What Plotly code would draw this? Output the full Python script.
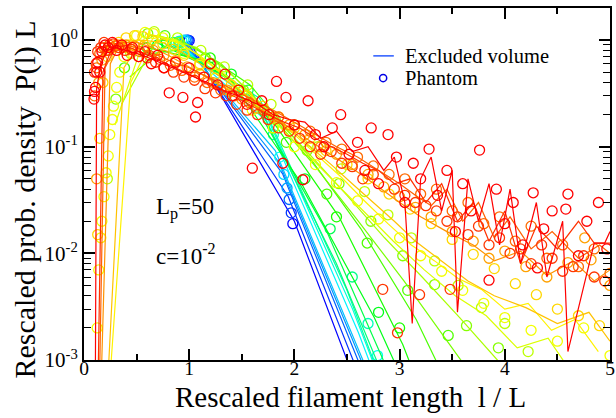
import colorsys
import plotly.graph_objects as go

# ---------------------------------------------------------------------------
# Excluded-volume runs (drawn as lines), early (short filaments) -> late
# x = rescaled filament length l/L, y = rescaled probability density P(l) L
# ---------------------------------------------------------------------------
ev_x_00 = [1.000, 2.000, 3.000]
ev_y_00 = [0.98, 0.020, 5.0e-5]
ev_x_01 = [0.971, 1.942, 2.913]
ev_y_01 = [0.99, 0.034, 1.3e-4]
ev_x_02 = [0.943, 1.887, 2.830]
ev_y_02 = [1.0, 0.056, 2.8e-4]
ev_x_03 = [0.926, 1.852, 2.778]
ev_y_03 = [1.0, 0.072, 4.5e-4]
ev_x_04 = [0.909, 1.818, 2.727, 3.636]
ev_y_04 = [1.0, 0.092, 6.6e-4, 2.0e-6]
ev_x_05 = [0.870, 1.739, 2.609, 3.478]
ev_y_05 = [0.98, 0.173, 1.8e-3, 1.0e-5]
ev_x_06 = [0.851, 1.702, 2.553, 3.404]
ev_y_06 = [0.95, 0.23, 3.0e-3, 2.0e-5]
ev_x_07 = [0.833, 1.667, 2.500, 3.333]
ev_y_07 = [0.92, 0.286, 4.5e-3, 3.0e-5]
ev_x_08 = [0.800, 1.600, 2.400, 3.200]
ev_y_08 = [0.92, 0.32, 8.0e-3, 1.0e-4]
ev_x_09 = [0.769, 1.538, 2.308, 3.077]
ev_y_09 = [0.93, 0.35, 0.016, 3.0e-4]
ev_x_10 = [0.690, 1.379, 2.069, 2.759, 3.448]
ev_y_10 = [0.95, 0.45, 0.045, 2.5e-3, 8.0e-5]
ev_x_11 = [0.606, 1.212, 1.818, 2.424, 3.030, 3.636]
ev_y_11 = [0.85, 0.62, 0.16, 0.022, 1.4e-3, 4.0e-5]
ev_x_12 = [0.526, 1.053, 1.579, 2.105, 2.632, 3.158, 3.684]
ev_y_12 = [0.72, 0.85, 0.38, 0.090, 0.017, 2.4e-3, 2.0e-4]
ev_x_13 = [0.435, 0.870, 1.304, 1.739, 2.174, 2.609, 3.043, 3.478, 3.913]
ev_y_13 = [0.45, 1.05, 0.60, 0.22, 0.070, 0.020, 5.5e-3, 1.4e-3, 3.5e-4]
ev_x_14 = [0.357, 0.714, 1.071, 1.429, 1.786, 2.143, 2.500, 2.857, 3.214,
           3.571, 3.929, 4.286]
ev_y_14 = [0.25, 1.10, 0.85, 0.45, 0.20, 0.085, 0.035, 0.014, 6.0e-3,
           2.5e-3, 1.0e-3, 4.0e-4]
ev_x_15 = [0.294, 0.588, 0.882, 1.176, 1.471, 1.765, 2.059, 2.353, 2.647,
           2.941, 3.235, 3.529, 3.824, 4.118, 4.412, 4.706]
ev_y_15 = [0.16, 1.15, 1.0, 0.62, 0.35, 0.19, 0.098, 0.050, 0.026,
           0.013, 7.0e-3, 4.0e-3, 2.6e-3, 1.3e-3, 1.6e-3, 6.0e-4]
ev_x_16 = [0.222, 0.444, 0.667, 0.889, 1.111, 1.333, 1.556, 1.778, 2.000,
           2.222, 2.444, 2.667, 2.889, 3.111, 3.333, 3.556, 3.778, 4.000,
           4.222, 4.444, 4.667, 4.889]
ev_y_16 = [3.0e-4, 0.40, 1.10, 0.95, 0.70, 0.48, 0.32, 0.20, 0.13,
           0.082, 0.052, 0.031, 0.019, 0.012, 8.5e-3, 5.8e-3, 4.6e-3, 3.0e-3,
           3.4e-3, 1.9e-3, 2.4e-3, 1.2e-3]
ev_x_17 = [0.20, 0.38, 0.55, 0.75, 0.95, 1.15, 1.35, 1.55, 1.75, 1.95,
           2.15, 2.35, 2.55, 2.75, 2.95, 3.15, 3.40, 3.65, 3.90, 4.20,
           4.50, 4.80, 5.00]
ev_y_17 = [2.0e-4, 0.55, 1.0, 0.95, 0.75, 0.56, 0.42, 0.30, 0.21, 0.15,
           0.10, 0.068, 0.045, 0.030, 0.020, 0.013, 8.5e-3, 5.5e-3, 4.0e-3,
           3.1e-3, 2.2e-3, 2.8e-3, 1.5e-3]
ev_x_18 = [0.14, 0.25, 0.35, 0.50, 0.65, 0.80, 1.00, 1.20, 1.40, 1.60,
           1.80, 2.00, 2.20, 2.40, 2.60, 2.80, 3.00, 3.20, 3.45, 3.70,
           3.90, 4.15, 4.40, 4.65, 4.85, 5.00]
ev_y_18 = [1.0e-4, 0.60, 0.95, 0.95, 0.85, 0.72, 0.56, 0.43, 0.33, 0.25,
           0.19, 0.14, 0.105, 0.078, 0.058, 0.042, 0.030, 0.022, 0.016, 0.012,
           8.5e-3, 0.0105, 6.2e-3, 8.5e-3, 5.5e-3, 7.0e-3]
ev_x_19 = [0.115, 0.20, 0.30, 0.40, 0.55, 0.70, 0.85, 1.00, 1.20, 1.40,
           1.60, 1.80, 2.00, 2.20, 2.40, 2.60, 2.80, 3.00, 3.15, 3.30,
           3.45, 3.60, 3.75, 3.90, 4.05, 4.25, 4.45, 4.70, 4.90, 5.00]
ev_y_19 = [1.0e-5, 0.55, 0.85, 0.90, 0.82, 0.72, 0.62, 0.55, 0.44, 0.35,
           0.28, 0.22, 0.17, 0.13, 0.10, 0.080, 0.060, 0.045, 0.035, 0.028,
           0.040, 0.020, 0.030, 0.014, 0.022, 0.011, 0.016, 9.0e-3, 0.012, 0.010]
ev_x_20 = [0.105, 0.18, 0.26, 0.35, 0.45, 0.57, 0.70, 0.85, 1.00, 1.15,
           1.30, 1.45, 1.60, 1.75, 1.90, 2.05, 2.20, 2.35, 2.50, 2.65,
           2.80, 2.95, 3.10, 3.25, 3.40, 3.55, 3.70, 3.85, 4.00, 4.15,
           4.30, 4.50, 4.70, 4.85, 5.00]
ev_y_20 = [1.0e-5, 0.50, 0.82, 0.88, 0.84, 0.75, 0.66, 0.56, 0.48, 0.40,
           0.34, 0.29, 0.24, 0.20, 0.17, 0.15, 0.12, 0.10, 0.085, 0.070,
           0.060, 0.045, 0.050, 0.030, 0.045, 0.020, 0.030, 0.013, 0.025, 8.0e-3,
           0.018, 0.011, 0.020, 0.0125, 0.0125]
ev_x_21 = [0.10, 0.12, 0.16, 0.22, 0.30, 0.40, 0.50, 0.62, 0.75, 0.90,
           1.05, 1.20, 1.35, 1.50, 1.65, 1.80, 1.95, 2.10, 2.25, 2.40,
           2.55, 2.70, 2.85, 2.95, 3.05, 3.12, 3.20, 3.30, 3.40, 3.50,
           3.55, 3.65, 3.75, 3.85, 3.95, 4.05, 4.15, 4.30, 4.40, 4.55,
           4.60, 4.85, 4.95, 5.00]
ev_y_21 = [1.0e-5, 0.35, 0.60, 0.80, 0.85, 0.80, 0.75, 0.68, 0.60, 0.52,
           0.45, 0.39, 0.33, 0.29, 0.25, 0.20, 0.18, 0.17, 0.12, 0.14,
           0.090, 0.10, 0.060, 0.080, 0.030, 2.2e-3, 0.050, 0.080, 0.025, 0.060,
           2.8e-3, 0.050, 0.020, 0.045, 0.012, 0.040, 8.0e-3, 0.030, 6.0e-3, 0.020,
           1.2e-3, 0.0125, 0.0125, 0.016]

# ---------------------------------------------------------------------------
# Phantom runs (drawn as open circles), early -> late
# ---------------------------------------------------------------------------
ph_x_00 = [1.000, 1.985]
ph_y_00 = [0.99, 0.019]
ph_x_01 = [0.990, 1.970, 2.960]
ph_y_01 = [1.0, 0.024, 6.0e-5]
ph_x_02 = [0.980, 1.950, 2.930]
ph_y_02 = [1.0, 0.032, 1.2e-4]
ph_x_03 = [0.965, 1.930, 2.900]
ph_y_03 = [1.0, 0.041, 2.0e-4]
ph_x_04 = [0.950, 1.900, 2.850]
ph_y_04 = [1.0, 0.055, 4.0e-4]
ph_x_05 = [0.930, 1.860, 2.790, 3.720]
ph_y_05 = [0.99, 0.080, 1.1e-3, 5.0e-6]
ph_x_06 = [0.900, 1.800, 2.700, 3.600]
ph_y_06 = [0.97, 0.13, 2.2e-3, 2.0e-5]
ph_x_07 = [0.850, 1.700, 2.550, 3.400]
ph_y_07 = [0.95, 0.22, 6.0e-3, 1.0e-4]
ph_x_08 = [0.780, 1.560, 2.340, 3.120, 3.900]
ph_y_08 = [0.94, 0.34, 0.017, 4.5e-4, 8.0e-6]
ph_x_09 = [0.700, 1.400, 2.100, 2.800, 3.500]
ph_y_09 = [0.90, 0.48, 0.050, 2.8e-3, 8.0e-5]
ph_x_10 = [0.600, 1.200, 1.800, 2.400, 3.000, 3.600]
ph_y_10 = [0.85, 0.68, 0.15, 0.022, 2.0e-3, 1.6e-4]
ph_x_11 = [0.385, 0.769, 1.154, 1.538, 1.923, 2.308, 2.692, 3.077, 3.462]
ph_y_11 = [0.55, 1.10, 0.68, 0.30, 0.11, 0.036, 0.0125, 4.5e-3, 1.7e-3]
ph_x_12 = [0.303, 0.606, 0.909, 1.212, 1.515, 1.818, 2.121, 2.424, 2.727,
           3.030, 3.333, 3.636, 3.939]
ph_y_12 = [0.28, 1.15, 0.95, 0.60, 0.34, 0.18, 0.092, 0.045, 0.020,
           9.5e-3, 5.1e-3, 2.1e-3, 1.3e-3]
ph_x_13 = [0.222, 0.444, 0.667, 0.889, 1.111, 1.333, 1.556, 1.778, 2.000,
           2.222, 2.444, 2.667, 2.889, 3.111, 3.333, 3.556, 3.778, 4.000,
           4.222]
ph_y_13 = [0.050, 0.75, 1.20, 1.05, 0.80, 0.56, 0.38, 0.25, 0.16,
           0.10, 0.062, 0.038, 0.023, 0.014, 8.5e-3, 5.0e-3, 3.1e-3, 2.2e-3,
           1.2e-3]
ph_x_14 = [0.125, 0.14, 0.16, 0.17, 0.19, 0.21, 0.23, 0.245, 0.27, 0.28,
           0.31, 0.34, 0.38, 0.43, 0.50, 0.58, 0.66, 0.75, 0.85, 0.95,
           1.10, 1.25, 1.40, 1.60, 1.80, 2.00, 2.20, 2.40, 2.60, 2.80,
           3.00, 3.20, 3.40, 3.60, 3.80, 4.00, 4.25, 4.50, 4.75, 5.00]
ph_y_14 = [2.0e-3, 7.0e-3, 0.014, 0.020, 0.034, 0.057, 0.082, 0.13, 0.18, 0.24,
           0.36, 0.50, 0.70, 0.90, 1.10, 1.18, 1.15, 1.05, 0.90, 0.75,
           0.58, 0.44, 0.33, 0.22, 0.15, 0.10, 0.068, 0.046, 0.031, 0.021,
           0.014, 9.5e-3, 6.8e-3, 4.5e-3, 3.4e-3, 2.5e-3, 1.9e-3, 1.5e-3, 2.0e-3, 1.1e-3]
ph_x_15 = [0.13, 0.15, 0.18, 0.22, 0.27, 0.33, 0.40, 0.48, 0.56, 0.65,
           0.75, 0.85, 0.95, 1.10, 1.25, 1.40, 1.55, 1.70, 1.85, 2.00,
           2.15, 2.30, 2.50, 2.70, 2.90, 3.10, 3.30, 3.50, 3.70, 3.90,
           4.10, 4.30, 4.50, 4.70, 4.90]
ph_y_15 = [0.015, 0.12, 0.40, 0.70, 0.85, 0.95, 1.05, 1.10, 1.08, 1.0,
           0.92, 0.82, 0.72, 0.60, 0.48, 0.38, 0.30, 0.24, 0.19, 0.15,
           0.12, 0.092, 0.068, 0.050, 0.036, 0.026, 0.019, 0.0135, 9.8e-3, 7.2e-3,
           5.2e-3, 4.1e-3, 3.0e-3, 2.6e-3, 2.1e-3]
ph_x_16 = [0.12, 0.14, 0.17, 0.21, 0.26, 0.32, 0.40, 0.48, 0.57, 0.66,
           0.76, 0.87, 0.98, 1.10, 1.23, 1.36, 1.50, 1.65, 1.80, 1.95,
           2.10, 2.25, 2.40, 2.55, 2.70, 2.85, 3.00, 3.15, 3.30, 3.50,
           3.70, 3.85, 4.00, 4.20, 4.40, 4.60, 4.76, 4.82, 5.00]
ph_y_16 = [0.050, 0.40, 0.65, 0.80, 0.85, 0.90, 0.90, 0.88, 0.85, 0.80,
           0.72, 0.64, 0.56, 0.48, 0.40, 0.34, 0.28, 0.23, 0.19, 0.16,
           0.13, 0.10, 0.085, 0.068, 0.055, 0.042, 0.034, 0.027, 0.022, 0.016,
           0.013, 9.0e-3, 0.0105, 7.5e-3, 6.0e-3, 8.2e-3, 0.014, 8.7e-3, 5.0e-3]
ph_x_17 = [0.10, 0.12, 0.15, 0.19, 0.24, 0.30, 0.37, 0.45, 0.53, 0.62,
           0.72, 0.82, 0.93, 1.05, 1.17, 1.30, 1.43, 1.57, 1.71, 1.85,
           2.00, 2.15, 2.30, 2.45, 2.60, 2.75, 2.90, 3.05, 3.20, 3.35,
           3.50, 3.65, 3.80, 3.95, 4.10, 4.25, 4.40, 4.55, 4.70, 4.85, 5.00]
ph_y_17 = [0.30, 0.55, 0.75, 0.85, 0.90, 0.88, 0.85, 0.82, 0.78, 0.72,
           0.66, 0.58, 0.52, 0.45, 0.40, 0.34, 0.30, 0.26, 0.22, 0.19,
           0.16, 0.14, 0.11, 0.095, 0.080, 0.066, 0.055, 0.050, 0.036, 0.040,
           0.025, 0.030, 0.019, 0.022, 0.013, 0.018, 9.0e-3, 0.012, 7.5e-3, 0.011, 6.5e-3]
ph_x_18 = [0.10, 0.115, 0.13, 0.16, 0.19, 0.23, 0.28, 0.33, 0.39, 0.45,
           0.52, 0.60, 0.68, 0.76, 0.85, 0.95, 1.05, 1.15, 1.25, 1.35,
           1.45, 1.55, 1.65, 1.75, 1.85, 1.95, 2.05, 2.15, 2.25, 2.35,
           2.45, 2.55, 2.65, 2.75, 2.84, 2.95, 2.98, 3.05, 3.15, 3.19,
           3.25, 3.35, 3.45, 3.48, 3.55, 3.65, 3.75, 3.85, 3.95, 4.05,
           4.15, 4.25, 4.35, 4.45, 4.55, 4.65, 4.75, 4.85, 4.95]
ph_y_18 = [0.50, 0.60, 0.78, 0.85, 0.95, 0.80, 0.92, 0.85, 0.80, 0.82,
           0.70, 0.68, 0.62, 0.55, 0.50, 0.45, 0.42, 0.35, 0.32, 0.30,
           0.25, 0.22, 0.20, 0.18, 0.15, 0.14, 0.12, 0.10, 0.085, 0.090,
           0.070, 0.065, 0.050, 0.055, 4.6e-3, 0.040, 1.8e-3, 0.035, 0.030, 4.1e-3,
           0.028, 0.025, 0.020, 4.6e-3, 0.022, 0.015, 0.018, 0.012, 0.014, 0.010,
           0.011, 8.0e-3, 0.012, 9.0e-3, 6.8e-3, 7.5e-3, 9.5e-3, 6.0e-3, 5.5e-3]
ph_x_19 = [0.095, 0.10, 0.11, 0.12, 0.13, 0.15, 0.17, 0.20, 0.23, 0.27,
           0.31, 0.36, 0.41, 0.46, 0.52, 0.58, 0.64, 0.70, 0.76, 0.81,
           0.87, 0.94, 1.00, 1.06, 1.08, 1.14, 1.20, 1.27, 1.34, 1.41,
           1.47, 1.55, 1.60, 1.69, 1.76, 1.83, 1.89, 1.92, 2.00, 2.08,
           2.13, 2.20, 2.28, 2.36, 2.44, 2.52, 2.60, 2.67, 2.73, 2.80,
           2.89, 2.97, 3.05, 3.13, 3.20, 3.28, 3.36, 3.45, 3.53, 3.60,
           3.68, 3.76, 3.85, 3.92, 4.00, 4.08, 4.17, 4.27, 4.31, 4.37,
           4.45, 4.58, 4.60, 4.70, 4.78, 4.89, 4.97]
ph_y_19 = [0.28, 0.33, 0.36, 0.50, 0.62, 0.50, 0.78, 0.90, 0.85, 0.95,
           0.80, 0.90, 0.72, 0.85, 0.70, 0.78, 0.60, 0.72, 0.55, 0.32,
           0.62, 0.29, 0.55, 0.19, 0.26, 0.45, 0.60, 0.38, 0.48, 0.30,
           0.34, 0.25, 0.063, 0.27, 0.20, 0.41, 0.070, 0.29, 0.16, 0.049,
           0.27, 0.13, 0.10, 0.15, 0.20, 0.085, 0.11, 0.060, 0.15, 0.045,
           0.13, 0.080, 0.030, 0.070, 0.050, 0.095, 0.035, 0.060, 0.016, 0.045,
           0.025, 0.093, 5.6e-3, 0.040, 0.019, 0.030, 0.012, 0.037, 7.3e-3, 0.017,
           0.025, 0.026, 0.036, 9.5e-3, 0.020, 0.030, 0.011]

EV_RUNS = [
    (ev_x_00, ev_y_00), (ev_x_01, ev_y_01), (ev_x_02, ev_y_02), (ev_x_03, ev_y_03),
    (ev_x_04, ev_y_04), (ev_x_05, ev_y_05), (ev_x_06, ev_y_06), (ev_x_07, ev_y_07),
    (ev_x_08, ev_y_08), (ev_x_09, ev_y_09), (ev_x_10, ev_y_10), (ev_x_11, ev_y_11),
    (ev_x_12, ev_y_12), (ev_x_13, ev_y_13), (ev_x_14, ev_y_14), (ev_x_15, ev_y_15),
    (ev_x_16, ev_y_16), (ev_x_17, ev_y_17), (ev_x_18, ev_y_18), (ev_x_19, ev_y_19),
    (ev_x_20, ev_y_20), (ev_x_21, ev_y_21),
]
PH_RUNS = [
    (ph_x_00, ph_y_00), (ph_x_01, ph_y_01), (ph_x_02, ph_y_02), (ph_x_03, ph_y_03),
    (ph_x_04, ph_y_04), (ph_x_05, ph_y_05), (ph_x_06, ph_y_06), (ph_x_07, ph_y_07),
    (ph_x_08, ph_y_08), (ph_x_09, ph_y_09), (ph_x_10, ph_y_10), (ph_x_11, ph_y_11),
    (ph_x_12, ph_y_12), (ph_x_13, ph_y_13), (ph_x_14, ph_y_14), (ph_x_15, ph_y_15),
    (ph_x_16, ph_y_16), (ph_x_17, ph_y_17), (ph_x_18, ph_y_18), (ph_x_19, ph_y_19),
]

x_ticks = [0, 1, 2, 3, 4, 5]
y_ticks = [1e-3, 1e-2, 1e-1, 1e0]
y_tick_text = ["10<sup>-3</sup>", "10<sup>-2</sup>", "10<sup>-1</sup>", "10<sup>0</sup>"]
legend_labels = ["Excluded volume", "Phantom"]

SERIF = "Liberation Serif"


def rainbow(i, n):
    """Blue (first run) through cyan, green, yellow to red (last run)."""
    hue = 240.0 * (1.0 - i / (n - 1)) / 360.0
    r, g, b = colorsys.hsv_to_rgb(hue, 1.0, 1.0)
    return "rgb(%d,%d,%d)" % (round(r * 255), round(g * 255), round(b * 255)), hue


# collect both families and draw them from blue to red so the late runs sit on top
layers = []
for i, (xs, ys) in enumerate(EV_RUNS):
    col, h = rainbow(i, len(EV_RUNS))
    layers.append((h, 0, go.Scatter(x=xs, y=ys, mode="lines",
                                    line=dict(color=col, width=1.2),
                                    showlegend=False, hoverinfo="skip")))
for i, (xs, ys) in enumerate(PH_RUNS):
    col, h = rainbow(i, len(PH_RUNS))
    layers.append((h, 1, go.Scatter(x=xs, y=ys, mode="markers",
                                    marker=dict(symbol="circle-open", size=10,
                                                color=col, line=dict(width=1.3, color=col)),
                                    showlegend=False, hoverinfo="skip")))
layers.sort(key=lambda t: (-t[0], t[1]))

fig = go.Figure([t[2] for t in layers])

minor_y = [m * d for d in (1e-3, 1e-2, 1e-1) for m in range(2, 10)] + [2.0]

fig.update_layout(
    width=616, height=418,
    margin=dict(l=84, r=1, t=8, b=58),
    paper_bgcolor="white", plot_bgcolor="white",
    font=dict(family=SERIF, color="black"),
    showlegend=False,
    xaxis=dict(range=[0, 5], tickvals=x_ticks, ticks="inside", ticklen=11, tickwidth=1.5,
               tickcolor="black", showline=True, linewidth=2, linecolor="black",
               mirror="allticks", showgrid=False, zeroline=False,
               ticklabelstandoff=-10, ticklabeloverflow="allow",
               tickfont=dict(family=SERIF, size=19.5, color="black"),
               minor=dict(dtick=0.5, ticks="inside", ticklen=6, tickwidth=1.5,
                          tickcolor="black", showgrid=False)),
    yaxis=dict(type="log", range=[-3, 0.301], tickvals=y_ticks, ticktext=y_tick_text,
               ticks="inside", ticklen=11, tickwidth=1.5, tickcolor="black",
               showline=True, linewidth=2, linecolor="black", mirror="allticks",
               showgrid=False, zeroline=False,
               tickfont=dict(family=SERIF, size=21, color="black"),
               minor=dict(tickvals=minor_y, ticks="inside", ticklen=7, tickwidth=1.2,
                          tickcolor="black", showgrid=False)),
)

# legend key, placed inside the frame at the upper right
key_line_y = 0.864
key_mark_y = 0.801
fig.add_shape(type="line", xref="paper", yref="paper", x0=0.550, x1=0.589,
              y0=key_line_y, y1=key_line_y, line=dict(color="rgb(40,90,255)", width=1.5))
fig.add_shape(type="circle", xref="paper", yref="paper",
              x0=0.5687 - 0.0068, x1=0.5687 + 0.0068,
              y0=key_mark_y - 0.0102, y1=key_mark_y + 0.0102,
              line=dict(color="rgb(0,0,230)", width=1.5))
for label, yk in zip(legend_labels, (key_line_y, key_mark_y)):
    fig.add_annotation(text=label, xref="paper", yref="paper", x=0.606, y=yk,
                       xanchor="left", yanchor="middle", showarrow=False,
                       font=dict(family=SERIF, size=20.5, color="black"))

fig.add_annotation(text="Rescaled filament length \u00a0l / L", xref="paper", yref="paper",
                   x=0.506, y=-0.104, xanchor="center", yanchor="middle", showarrow=False,
                   font=dict(family=SERIF, size=29, color="black"))
fig.add_annotation(text="Rescaled prob. density \u00a0P(l) L", xref="paper", yref="paper",
                   x=-0.113, y=0.4545, xanchor="center", yanchor="middle", showarrow=False,
                   textangle=-90, font=dict(family=SERIF, size=30, color="black"))
fig.add_annotation(text="L<sub>p</sub>=50", xref="paper", yref="paper",
                   x=0.134, y=0.43, xanchor="left", yanchor="middle", showarrow=False,
                   font=dict(family=SERIF, size=23, color="black"))
fig.add_annotation(text="c=10<sup>-2</sup>", xref="paper", yref="paper",
                   x=0.134, y=0.30, xanchor="left", yanchor="middle", showarrow=False,
                   font=dict(family=SERIF, size=23, color="black"))

fig.write_html("out.html")
